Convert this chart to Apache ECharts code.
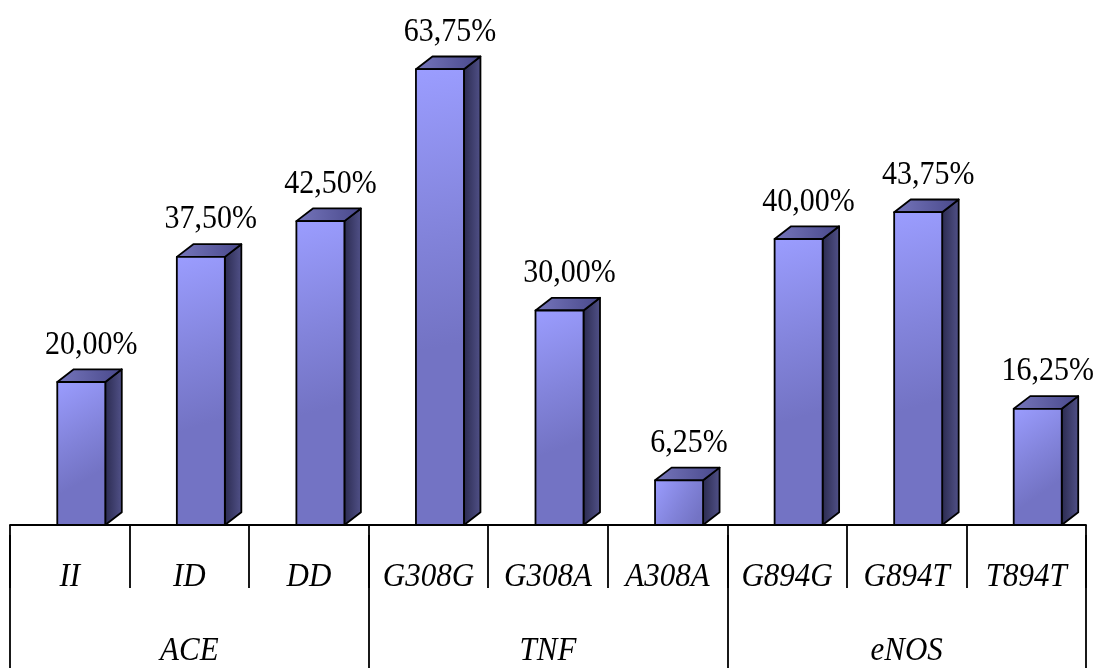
<!DOCTYPE html>
<html>
<head>
<meta charset="utf-8">
<script src="https://cdn.jsdelivr.net/npm/echarts@6/dist/echarts.min.js"></script>
<style>
  html, body { margin: 0; padding: 0; background: #fff; }
  #chart { width: 1110px; height: 668px; }
</style>
</head>
<body>
<div id="chart"></div>
<script>
// Genotype frequencies, grouped by gene
const categories = ['II', 'ID', 'DD', 'G308G', 'G308A', 'A308A', 'G894G', 'G894T', 'T894T'];
const values = [20.00, 37.50, 42.50, 63.75, 30.00, 6.25, 40.00, 43.75, 16.25];
const groups = ['ACE', 'TNF', 'eNOS'];

const FONT = '"Liberation Serif", "DejaVu Serif", serif';
const TEXT_STRETCH = 1.12;   // serif type is drawn slightly tall

// 3D box geometry (pixels)
const FRONT_W = 48;
const SHIFT = 11.5;
const DEPTH_X = 16.5;
const DEPTH_Y = 12.7;
const LABEL_DX = 10;
const LABEL_GAP = 24.5;

// table rows (pixel rows below the axis line)
const ROW1_Y = 577;
const ROW2_Y = 651;

function fmt(v) {
  return v.toFixed(2).replace('.', ',') + '%';
}

function tallText(x, y, text, font) {
  return {
    type: 'text',
    x: x,
    y: y,
    scaleY: TEXT_STRETCH,
    style: { text: text, font: font, fill: '#000', align: 'center', verticalAlign: 'middle' }
  };
}

function renderBox(params, api) {
  const idx = api.value(0);
  const val = api.value(1);
  const top = api.coord([idx, val]);
  const base = api.coord([idx, 0]);
  const cx = top[0] + SHIFT;
  const x0 = cx - FRONT_W / 2;
  const x1 = cx + FRONT_W / 2;
  const yT = top[1];
  const yB = base[1];
  const stroke = { stroke: '#000', lineWidth: 1.8, lineJoin: 'round' };
  return {
    type: 'group',
    children: [
      {
        type: 'polygon',
        shape: { points: [[x1, yT], [x1 + DEPTH_X, yT - DEPTH_Y], [x1 + DEPTH_X, yB - DEPTH_Y], [x1, yB]] },
        style: Object.assign({
          fill: new echarts.graphic.LinearGradient(0, 0, 1, 0, [
            { offset: 0, color: '#2a2a4e' },
            { offset: 1, color: '#52528a' }
          ])
        }, stroke)
      },
      {
        type: 'polygon',
        shape: { points: [[x0, yT], [x0 + DEPTH_X, yT - DEPTH_Y], [x1 + DEPTH_X, yT - DEPTH_Y], [x1, yT]] },
        style: Object.assign({
          fill: new echarts.graphic.LinearGradient(0, 0, 1, 0, [
            { offset: 0, color: '#7676bc' },
            { offset: 1, color: '#48488a' }
          ])
        }, stroke)
      },
      {
        type: 'rect',
        shape: { x: x0, y: yT, width: FRONT_W, height: yB - yT },
        style: Object.assign({
          fill: new echarts.graphic.LinearGradient(0, 0, 1, 0.6, [
            { offset: 0, color: '#9b9dff' },
            { offset: 0.6, color: '#8283da' },
            { offset: 1, color: '#7373c4' }
          ])
        }, stroke)
      },
      tallText(cx + LABEL_DX, yT - DEPTH_Y - LABEL_GAP, fmt(val), '30px ' + FONT)
    ]
  };
}

function renderCategoryLabel(params, api) {
  const idx = api.value(0);
  const p = api.coord([idx, 0]);
  return tallText(p[0], ROW1_Y, categories[idx], 'italic 31px ' + FONT);
}

function renderGroupLabel(params, api) {
  const idx = api.value(0);
  const p = api.coord([idx, 0]);
  return tallText(p[0], ROW2_Y, groups[idx], 'italic 31px ' + FONT);
}

const chart = echarts.init(document.getElementById('chart'), null, { renderer: 'canvas' });
chart.setOption({
  backgroundColor: '#fff',
  animation: false,
  grid: { left: 10, right: 24, top: 24.5, bottom: 143 },
  xAxis: [
    {
      type: 'category',
      data: categories,
      position: 'bottom',
      offset: 10,
      axisLine: { show: true, lineStyle: { color: '#000', width: 1.8 } },
      axisTick: { show: true, length: 63, lineStyle: { color: '#000', width: 1.8 } },
      axisLabel: { show: false }
    },
    {
      type: 'category',
      data: groups,
      position: 'bottom',
      offset: 10,
      axisLine: { show: false },
      axisTick: { show: true, length: 140, lineStyle: { color: '#000', width: 1.8 } },
      axisLabel: { show: false }
    }
  ],
  yAxis: {
    type: 'value',
    min: 0,
    max: 70,
    show: false
  },
  series: [
    {
      type: 'custom',
      xAxisIndex: 0,
      clip: false,
      renderItem: renderBox,
      data: values.map((v, i) => [i, v])
    },
    {
      type: 'custom',
      xAxisIndex: 0,
      clip: false,
      silent: true,
      renderItem: renderCategoryLabel,
      data: categories.map((c, i) => [i, 0])
    },
    {
      type: 'custom',
      xAxisIndex: 1,
      clip: false,
      silent: true,
      renderItem: renderGroupLabel,
      data: groups.map((g, i) => [i, 0])
    }
  ]
});
</script>
</body>
</html>
